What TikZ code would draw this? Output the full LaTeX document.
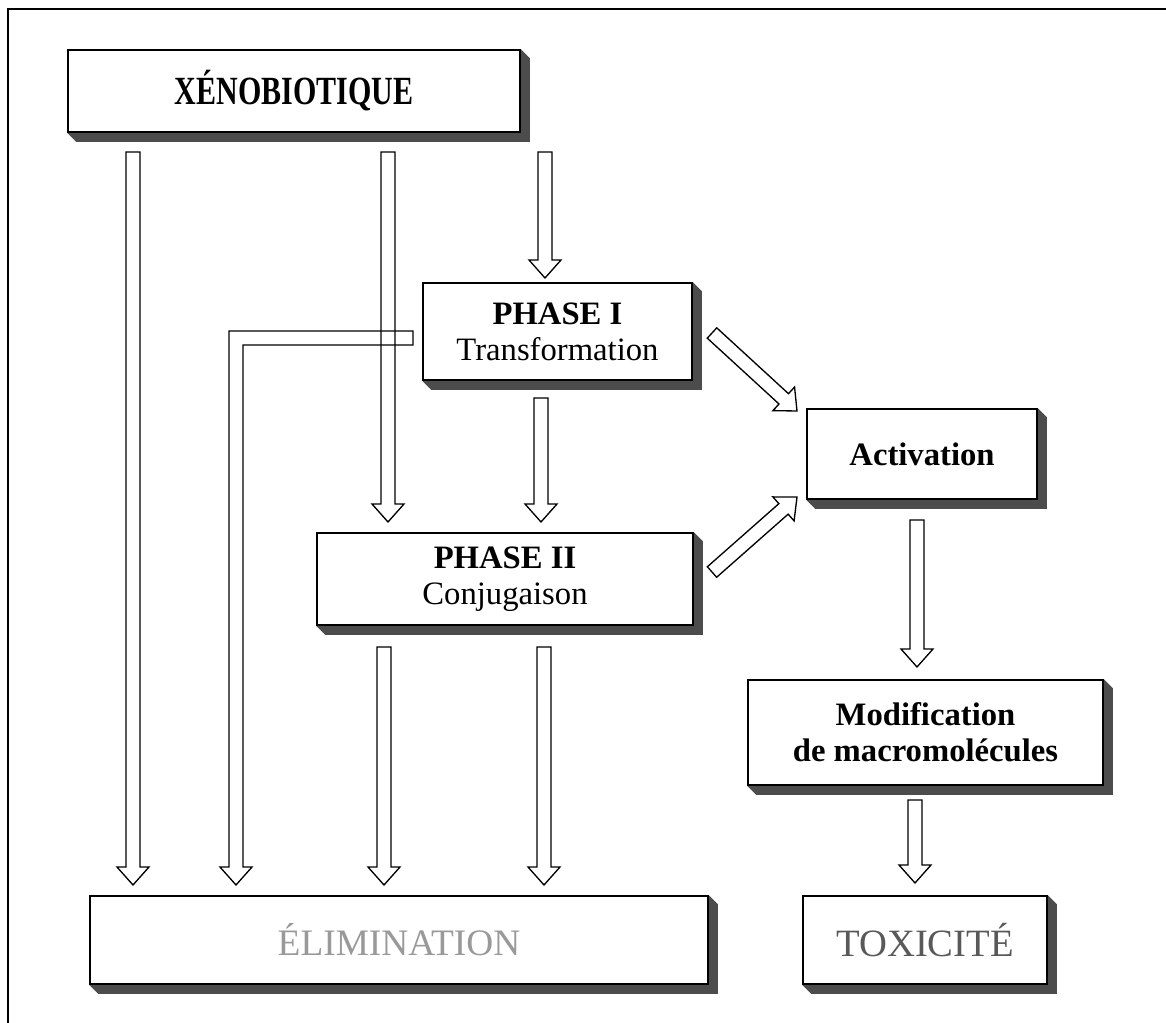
\documentclass[tikz,border=0pt]{standalone}
\usepackage{fontspec}
\setmainfont{Liberation Serif}
\usepackage{graphicx}
\usepackage{tikz}
\usetikzlibrary{calc,backgrounds}
\tikzset{flow box/.style args={#1x#2}{rectangle, draw, line width=1.2pt, fill=white,
    inner sep=0pt, align=center, minimum width=#1*0.75pt, minimum height=#2*0.75pt,
    font=\fontsize{24.5}{27}\selectfont}}
\tikzset{box shadow/.style={fill=black!70}}
\tikzset{frame line/.style={draw=black, line width=2pt}}
\tikzset{flow edge/.style={draw=black, line width=1pt, fill=white, line join=miter,
    to path={($(\tikztostart)!5.25pt!90:(\tikztotarget)$)
      -- ($(\tikztotarget)!13.5pt!(\tikztostart)!5.25pt!90:(\tikztotarget)$)
      -- ($(\tikztotarget)!13.5pt!(\tikztostart)!12pt!90:(\tikztotarget)$)
      -- (\tikztotarget)
      -- ($(\tikztotarget)!13.5pt!(\tikztostart)!12pt!-90:(\tikztotarget)$)
      -- ($(\tikztotarget)!13.5pt!(\tikztostart)!5.25pt!-90:(\tikztotarget)$)
      -- ($(\tikztostart)!5.25pt!-90:(\tikztotarget)$) -- cycle}}}
\tikzset{bent edge/.style={draw=black, line width=1pt, line join=miter}}

\begin{document}
\begin{tikzpicture}
          [x=0.75pt, y=-0.75pt]
          \useasboundingbox (0,0) rectangle (1166,1023);
          \draw [frame line] (8,1060) |- (1200,9);

          \node [flow box=452x82]  (xeno) at (294,91)    {\scalebox{0.75}[1]{\fontsize{30}{34}\selectfont\bfseries XÉNOBIOTIQUE}};
          \node [flow box=269x97]  (ph1)  at (557.5,331.5) {\textbf{PHASE I}\\Transformation};
          \node [flow box=230x90]  (act)  at (922,454)   {\textbf{Activation}};
          \node [flow box=376x92]  (ph2)  at (505,579)   {\textbf{PHASE II}\\Conjugaison};
          \node [flow box=355x105] (mod)  at (925.5,732.5) {\textbf{Modification}\\\textbf{de macromolécules}};
          \node [flow box=618x88]  (elim) at (399,940)   {\fontsize{28}{30}\selectfont\color{black!40}ÉLIMINATION};
          \node [flow box=244x88]  (tox)  at (925,940)   {\fontsize{29}{30}\selectfont\color{black!65}TOXICITÉ};

          \begin{scope}[on background layer]
            \foreach \n in {xeno,ph1,act,ph2,mod,elim,tox}
              \fill [box shadow] (\n.north east) -- ++(9,9) -- ($(\n.south east)+(9,9)$)
                -- ($(\n.south west)+(9,9)$) -- (\n.south west) -- (\n.south east) -- cycle;
          \end{scope}

          % arrow ends
          \coordinate (xeno-1)   at (133,152);
          \coordinate (xeno-2)   at (388,152);
          \coordinate (xeno-3)   at (545,152);
          \coordinate (ph1-in)   at (545,278);
          \coordinate (ph1-out)  at (541,398);
          \coordinate (ph1-left) at (413,338);
          \coordinate (ph1-right) at (712,333);
          \coordinate (act-in1)  at (797,411);
          \coordinate (ph2-in1)  at (388,522);
          \coordinate (ph2-in2)  at (541,522);
          \coordinate (ph2-right) at (712,572);
          \coordinate (act-in2)  at (797,497);
          \coordinate (ph2-out1) at (384,647);
          \coordinate (ph2-out2) at (544,647);
          \coordinate (act-out)  at (917,520);
          \coordinate (mod-in)   at (917,667);
          \coordinate (mod-out)  at (915,800);
          \coordinate (tox-in)   at (915,883);
          \coordinate (elim-in1) at (133,885);
          \coordinate (elim-in2) at (236,885);
          \coordinate (elim-in3) at (384,885);
          \coordinate (elim-in4) at (544,885);

          \draw [flow edge] (xeno-1)   to (elim-in1);
          \draw [flow edge] (xeno-2)   to (ph2-in1);
          \draw [flow edge] (xeno-3)   to (ph1-in);
          \draw [flow edge] (ph1-out)  to (ph2-in2);
          \draw [flow edge] (ph1-right) to (act-in1);
          \draw [flow edge] (ph2-right) to (act-in2);
          \draw [flow edge] (ph2-out1) to (elim-in3);
          \draw [flow edge] (ph2-out2) to (elim-in4);
          \draw [flow edge] (act-out)  to (mod-in);
          \draw [flow edge] (mod-out)  to (tox-in);
          \draw [bent edge] ($(ph1-left)+(0,-7)$) -| ($(elim-in2)+(-7,-18)$) -- ++(-9,0)
            -- (elim-in2) -- ++(16,-18) -- ++(-9,0) |- ($(ph1-left)+(0,7)$) -- cycle;
        \end{tikzpicture}
\end{document}
